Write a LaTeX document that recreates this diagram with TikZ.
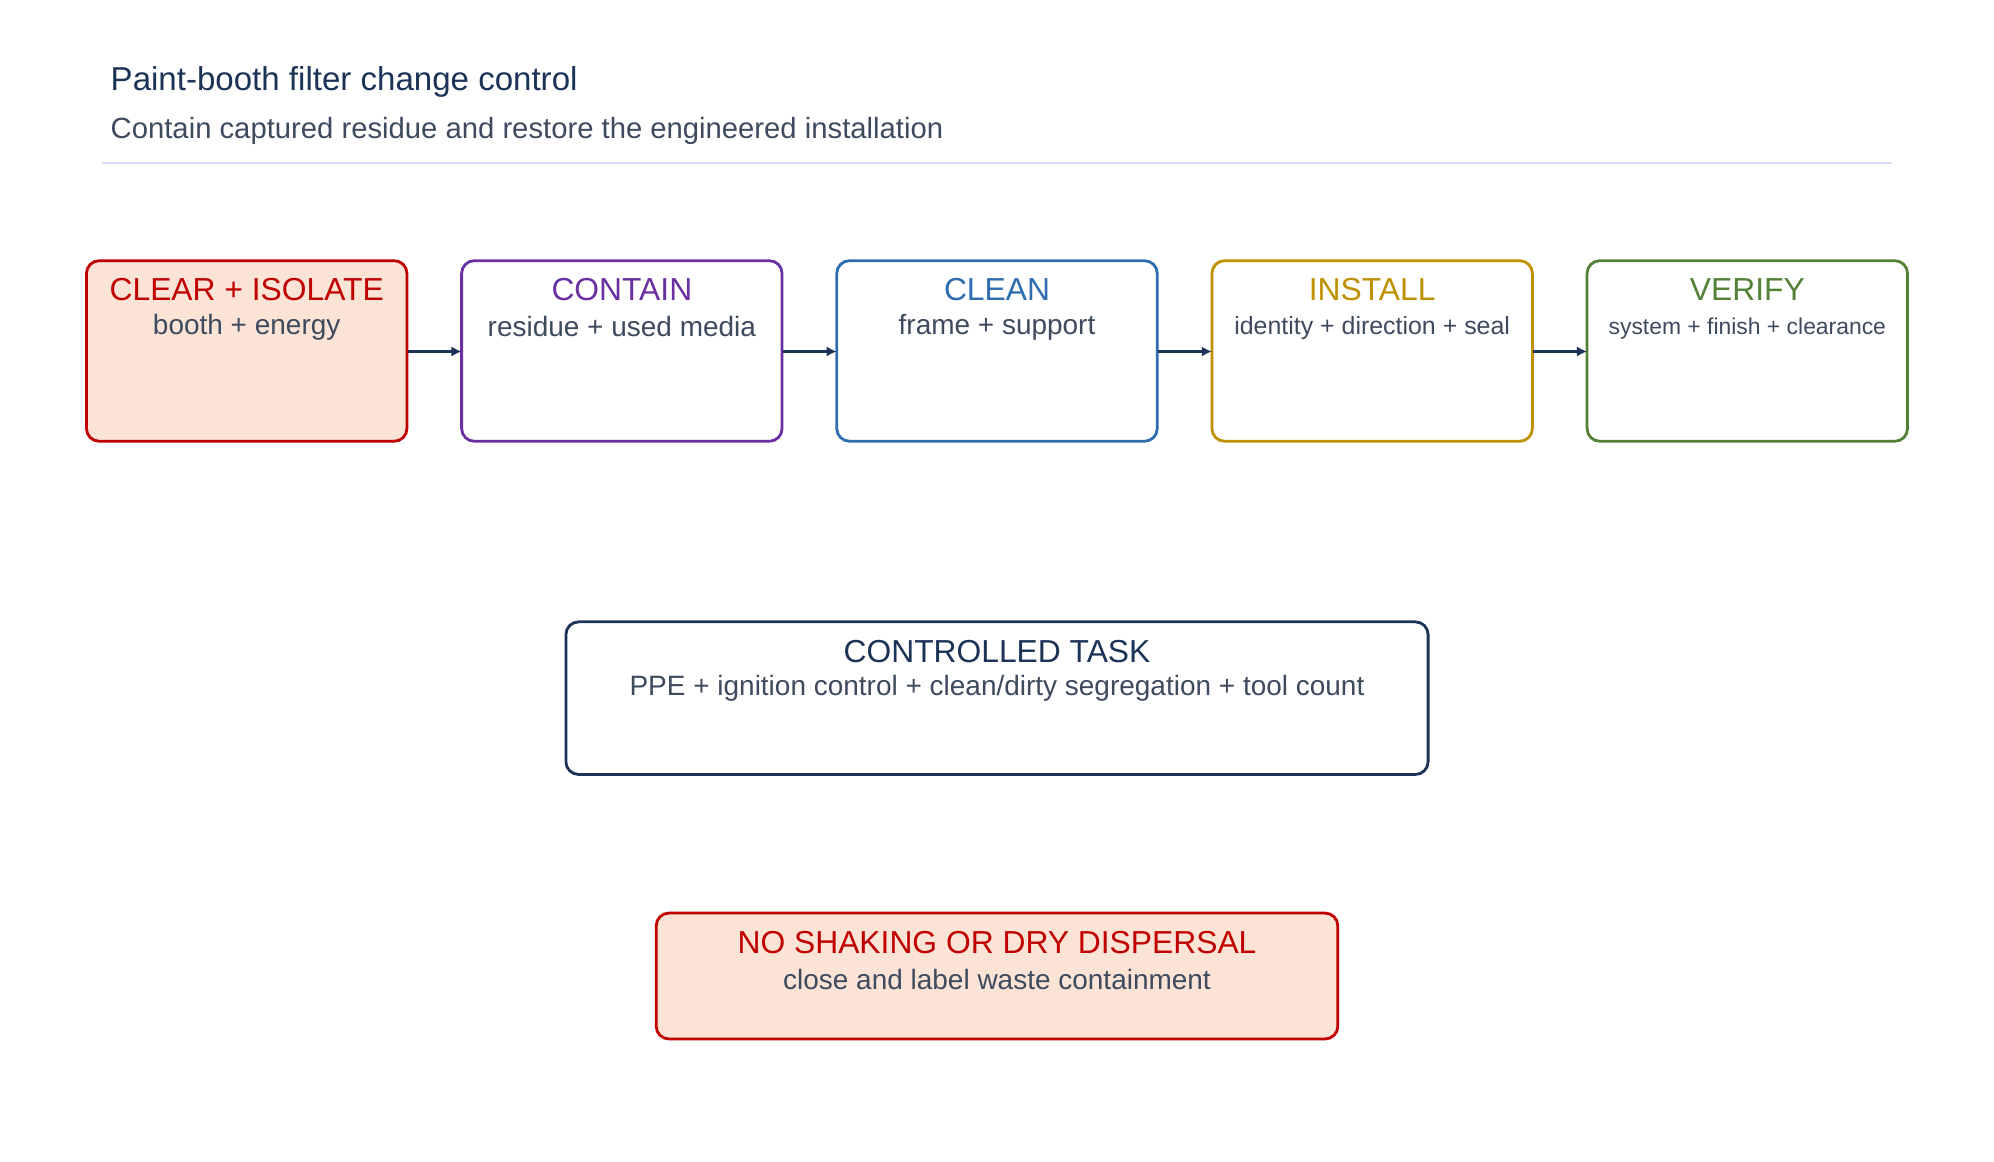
\documentclass[tikz,border=0pt]{standalone}
\usepackage{fontspec}
\setmainfont{Liberation Sans}
\usetikzlibrary{arrows.meta}
\definecolor{navy}{HTML}{1B3356}
\definecolor{slate}{HTML}{3E4A5E}
\definecolor{cred}{HTML}{C00000}
\definecolor{cpur}{HTML}{6A2FA0}
\definecolor{cblue}{HTML}{2E6DB0}
\definecolor{cgold}{HTML}{BF9000}
\definecolor{cgreen}{HTML}{538135}
\definecolor{peach}{HTML}{FBE3D6}
\definecolor{rule}{HTML}{D5DAF5}
\begin{document}
\begin{tikzpicture}[x=0.5pt,y=-0.5pt,
  box/.style={draw=#1,line width=1.1pt,rounded corners=5pt,fill=white},
  hd/.style={text=#1,font=\fontsize{12.5}{14}\selectfont,anchor=center},
  sb/.style={text=slate,font=\fontsize{11}{13}\selectfont,anchor=center},
  arr/.style={-{Latex[length=4pt,width=4pt]},draw=navy,line width=0.8pt}]
\useasboundingbox (0,0) rectangle (1568,913);
\node[anchor=base west,text=navy,font=\fontsize{13}{15}\selectfont] (t) at (80,71) {Paint-booth filter change control};
\node[anchor=base west,text=slate,font=\fontsize{11.5}{14}\selectfont] (s) at (80,109) {Contain captured residue and restore the engineered installation};
\draw[rule,line width=0.7pt] (80,128) -- (1488,128);
% boxes
\path[box=cred,fill=peach] (68,205) rectangle (320,347);
\node[draw=none,minimum width=126pt,minimum height=71pt,anchor=north west] (b1) at (68,205) {};
\node[draw=none,minimum width=126pt,minimum height=71pt,anchor=north west] (b2) at (363,205) {};
\node[draw=none,minimum width=126pt,minimum height=71pt,anchor=north west] (b3) at (658,205) {};
\node[draw=none,minimum width=126pt,minimum height=71pt,anchor=north west] (b4) at (953,205) {};
\node[draw=none,minimum width=126pt,minimum height=71pt,anchor=north west] (b5) at (1248,205) {};
\path[box=cpur] (363,205) rectangle (615,347);
\path[box=cblue] (658,205) rectangle (910,347);
\path[box=cgold] (953,205) rectangle (1205,347);
\path[box=cgreen] (1248,205) rectangle (1500,347);
\node[hd=cred] (h1) at (194,228) {CLEAR + ISOLATE};
\node[sb] (s1) at (194,257) {booth + energy};
\node[hd=cpur] (h2) at (489,228) {CONTAIN};
\node[sb] (s2) at (489,257) {residue + used media};
\node[hd=cblue] (h3) at (784,228) {CLEAN};
\node[sb] (s3) at (784,257) {frame + support};
\node[hd=cgold] (h4) at (1079,228) {INSTALL};
\node[sb,font=\fontsize{9.8}{12}\selectfont] (s4) at (1079,258) {identity + direction + seal};
\node[hd=cgreen] (h5) at (1374,228) {VERIFY};
\node[sb,font=\fontsize{9}{11}\selectfont] (s5) at (1374,258) {system + finish + clearance};
\draw[arr] (b1.east) -- (b2.west);
\draw[arr] (b2.east) -- (b3.west);
\draw[arr] (b3.east) -- (b4.west);
\draw[arr] (b4.east) -- (b5.west);
% controlled task
\path[box=navy] (445,489) rectangle (1123,609);
\node[draw=none,minimum width=339pt,minimum height=60pt,anchor=north west] (c) at (445,489) {};
\node[hd=navy] (ch) at (784,512) {CONTROLLED TASK};
\node[sb] (cs) at (784,541) {PPE + ignition control + clean/dirty segregation + tool count};
% warning
\path[box=cred,fill=peach] (516,718) rectangle (1052,817);
\node[draw=none,minimum width=268pt,minimum height=49.5pt,anchor=north west] (w) at (516,718) {};
\node[hd=cred] (wh) at (784,741) {NO SHAKING OR DRY DISPERSAL};
\node[sb] (ws) at (784,770) {close and label waste containment};
\end{tikzpicture}
\end{document}
